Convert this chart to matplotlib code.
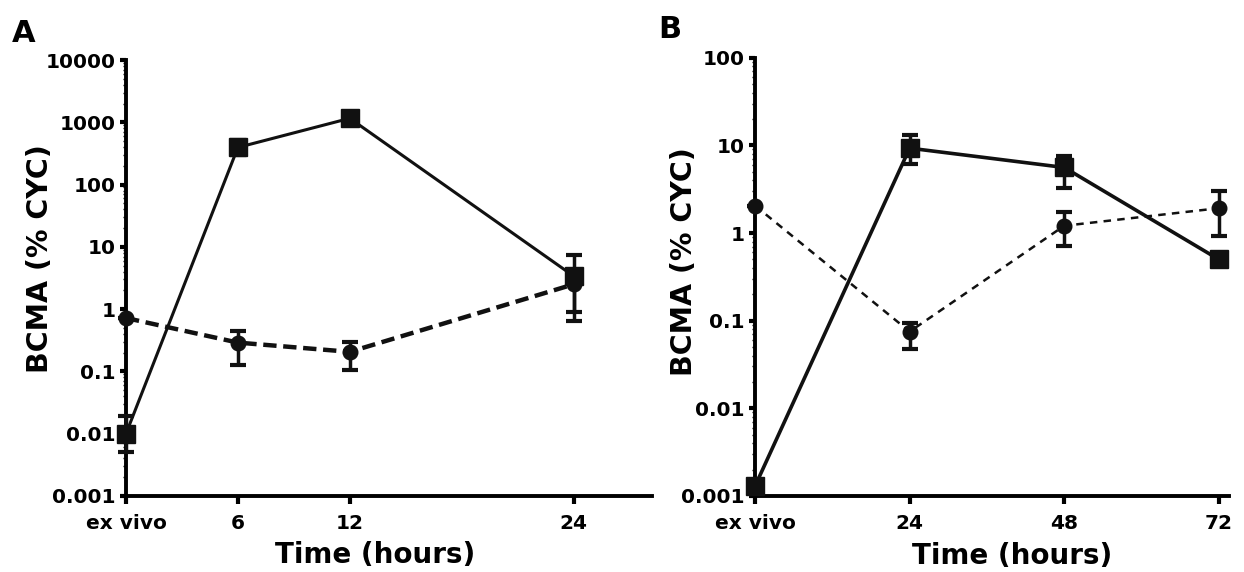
import matplotlib
matplotlib.use('Agg')
import matplotlib.pyplot as plt
import numpy as np
from matplotlib.ticker import FixedLocator, NullFormatter, LogLocator

plt.rcParams['font.family'] = ['DejaVu Sans']
plt.rcParams['font.weight'] = 'bold'

# panel A (hours: ex vivo, 6, 12, 24)
a_x = [0, 6, 12, 24]
a_xlabels = ['ex vivo', '6', '12', '24']
a_sq = [0.01, 395, 1160, 3.4]
a_sq_lo = [0.005, 300, 950, 0.9]
a_sq_hi = [0.0195, 520, 1400, 7.3]
a_ci = [0.72, 0.29, 0.206, 2.5]
a_ci_lo = [0.72, 0.125, 0.105, 0.65]
a_ci_hi = [0.72, 0.44, 0.30, 4.3]

# panel B (hours: ex vivo, 24, 48, 72)
b_x = [0, 24, 48, 72]
b_xlabels = ['ex vivo', '24', '48', '72']
b_sq = [0.0013, 9.3, 5.6, 0.5]
b_sq_lo = [0.0013, 6.2, 3.3, 0.5]
b_sq_hi = [0.0013, 13.3, 7.5, 0.5]
b_ci = [2.05, 0.075, 1.21, 1.92]
b_ci_lo = [2.05, 0.047, 0.72, 0.93]
b_ci_hi = [2.05, 0.095, 1.74, 3.0]


def draw(ax, x, sq, sq_lo, sq_hi, ci, ci_lo, ci_hi, dash_lw, dashes, solid_lw):
    sq = np.array(sq); ci = np.array(ci)
    sq_err = [sq - np.array(sq_lo), np.array(sq_hi) - sq]
    ci_err = [ci - np.array(ci_lo), np.array(ci_hi) - ci]
    ax.errorbar(x, sq, yerr=sq_err, color='#111111', lw=solid_lw, marker='s',
                ms=13.5, capsize=6, capthick=3, elinewidth=2.5, clip_on=False, zorder=3)
    ln = ax.errorbar(x, ci, yerr=ci_err, color='#111111', lw=dash_lw, marker='o',
                     ms=10.5, capsize=6, capthick=3, elinewidth=2.5, clip_on=False, zorder=4)
    ln[0].set_dashes(dashes)


def style(ax, xticks, xlabels, xmax, ylo, yhi, yticklabels, ylab_xy, xlab_xy):
    ax.set_yscale('log')
    ax.set_xlim(0, xmax)
    ax.set_ylim(ylo, yhi)
    for s in ['top', 'right']:
        ax.spines[s].set_visible(False)
    for s in ['left', 'bottom']:
        ax.spines[s].set_linewidth(2.8)
    ax.set_xticks(xticks)
    ax.set_xticklabels(xlabels)
    yt = [ylo * 10 ** i for i in range(len(yticklabels))]
    ax.yaxis.set_major_locator(FixedLocator(yt))
    ax.set_yticklabels(yticklabels)
    ax.yaxis.set_minor_locator(LogLocator(base=10, subs=np.arange(2, 10), numticks=20))
    ax.yaxis.set_minor_formatter(NullFormatter())
    ax.tick_params(axis='both', which='major', width=3, labelsize=14.5)
    ax.tick_params(axis='x', which='major', length=6, pad=7)
    ax.tick_params(axis='y', which='major', length=4, pad=3.5)
    ax.tick_params(axis='y', which='minor', length=2, width=1)
    ax.set_ylabel('BCMA (% CYC)', fontsize=20.5, fontweight='bold', va='center')
    ax.yaxis.set_label_coords(*ylab_xy)
    ax.set_xlabel('Time (hours)', fontsize=20, fontweight='bold', va='baseline')
    ax.xaxis.set_label_coords(*xlab_xy)


fig = plt.figure(figsize=(12.44, 5.72), dpi=100)

axA = fig.add_axes([0.1013, 0.133, 0.4227, 0.762])
draw(axA, a_x, a_sq, a_sq_lo, a_sq_hi, a_ci, a_ci_lo, a_ci_hi, 3.2, (3, 1.5), 2.2)
style(axA, a_x, a_xlabels, 28.2, 0.001, 10000,
      ['0.001', '0.01', '0.1', '1', '10', '100', '1000', '10000'],
      (-0.163, 0.545), (0.473, -0.155))

axB = fig.add_axes([0.607, 0.133, 0.381, 0.766])
draw(axB, b_x, b_sq, b_sq_lo, b_sq_hi, b_ci, b_ci_lo, b_ci_hi, 1.8, (3, 2.5), 2.6)
style(axB, b_x, b_xlabels, 73.6, 0.001, 100,
      ['0.001', '0.01', '0.1', '1', '10', '100'],
      (-0.15, 0.535), (0.542, -0.155))

fig.text(12 / 1244, 1 - 42 / 572, 'A', fontsize=22, fontweight='bold', va='baseline')
fig.text(658 / 1244, 1 - 38 / 572, 'B', fontsize=22, fontweight='bold', va='baseline')

fig.savefig('out.png', dpi=100)
